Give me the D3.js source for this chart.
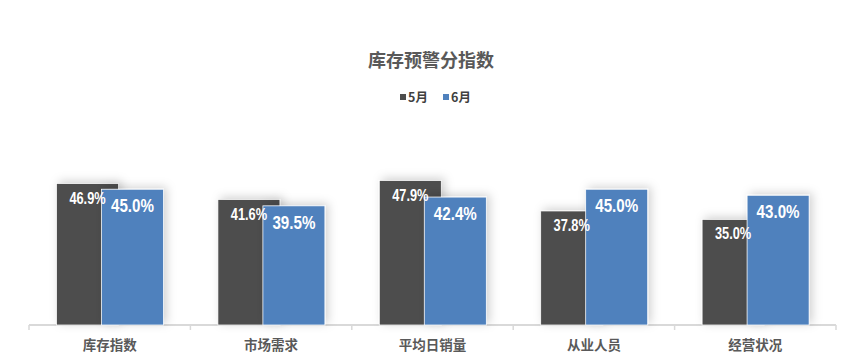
<!DOCTYPE html>
<html>
<head>
<meta charset="utf-8">
<script src="https://cdn.jsdelivr.net/npm/d3@7"></script>
<style>
  body { margin: 0; background: #fff; }
  svg { display: block; font-family: "Noto Sans CJK SC", "Noto Sans", sans-serif; }
</style>
</head>
<body>
<svg id="chart" width="865" height="360"></svg>
<script>
const categories = ["库存指数", "市场需求", "平均日销量", "从业人员", "经营状况"];
const seriesNames = ["5月", "6月"];
const may = [46.9, 41.6, 47.9, 37.8, 35.0];
const june = [45.0, 39.5, 42.4, 45.0, 43.0];
const colors = ["#4d4d4d", "#4f81bd"];

const svg = d3.select("#chart");
const left = 29, right = 836, baseline = 325;

const x = d3.scaleBand().domain(categories).range([left, right]);
const y = d3.scaleLinear().domain([0, 60]).range([baseline, baseline - 181]);

// soft glow behind bars
const defs = svg.append("defs");
const f = defs.append("filter").attr("id", "shadow")
  .attr("x", "-30%").attr("y", "-30%").attr("width", "160%").attr("height", "160%");
f.append("feDropShadow").attr("dx", 3).attr("dy", -2).attr("stdDeviation", 5)
  .attr("flood-color", "#000").attr("flood-opacity", 0.18);

svg.append("text")
  .attr("x", 431).attr("y", 67)
  .attr("text-anchor", "middle")
  .attr("font-size", 18).attr("font-weight", "bold").attr("fill", "#595959")
  .text("库存预警分指数");

// legend
const legend = svg.append("g").attr("font-size", 12.5).attr("font-weight", "bold").attr("fill", "#404040");
[400, 443].forEach((lx, i) => {
  legend.append("rect").attr("x", lx).attr("y", 94).attr("width", 6).attr("height", 6).attr("fill", colors[i]);
  legend.append("text").attr("x", lx + 8).attr("y", 101.5).text(seriesNames[i]);
});

// axis
const axis = d3.axisBottom(x).tickSize(0).tickFormat("");
const ag = svg.append("g").attr("transform", `translate(0,${baseline})`).call(axis);
ag.select(".domain").attr("stroke", "#d9d9d9").attr("stroke-width", 2).attr("d", `M${left},0H${right}`);
const tickPos = categories.map(c => x(c)).concat([right]);
ag.selectAll("line.edge").data(tickPos).join("line").attr("class", "edge")
  .attr("x1", d => d).attr("x2", d => d).attr("y1", 0).attr("y2", 5)
  .attr("stroke", "#d9d9d9").attr("stroke-width", 1.5);

svg.append("g").selectAll("text").data(categories).join("text")
  .attr("x", d => x(d) + x.bandwidth() / 2).attr("y", 350)
  .attr("text-anchor", "middle")
  .attr("font-size", 13.5).attr("font-weight", "bold").attr("fill", "#595959")
  .text(d => d);

const barW = 62;
const offsets = [27.5, 72.5];
const series = [may, june];

series.forEach((vals, s) => {
  const g = svg.append("g");
  g.selectAll("rect").data(vals).join("rect")
    .attr("x", (d, i) => x(categories[i]) + offsets[s])
    .attr("y", d => y(d))
    .attr("width", barW)
    .attr("height", d => baseline - y(d))
    .attr("fill", colors[s])
    .attr("stroke", "#fff").attr("stroke-width", 0.75)
    .attr("filter", "url(#shadow)");
});

// labels: condensed look by squeezing horizontally
const labelSize = [16, 18.5];
const labelSqueeze = [0.8, 0.82];
const labelDrop = [20, 23];
series.forEach((vals, s) => {
  svg.append("g").selectAll("text").data(vals).join("text")
    .attr("transform", (d, i) =>
      `translate(${x(categories[i]) + offsets[s] + barW / 2},${y(d) + labelDrop[s]}) scale(${labelSqueeze[s]},1)`)
    .attr("text-anchor", "middle")
    .attr("font-family", "'Liberation Sans', Arial, sans-serif")
    .attr("font-weight", "bold")
    .attr("font-size", labelSize[s])
    .attr("fill", "#fff")
    .text(d => d.toFixed(1) + "%");
});
</script>
</body>
</html>
